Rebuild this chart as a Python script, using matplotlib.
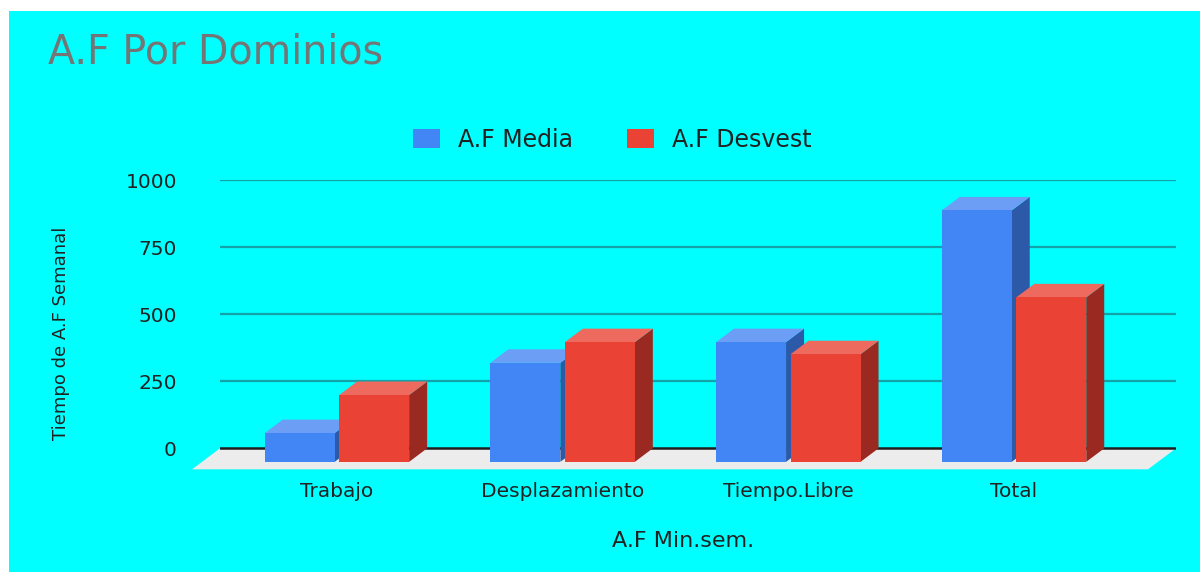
import matplotlib
matplotlib.use("Agg")
import matplotlib.pyplot as plt
from matplotlib.patches import Polygon, Rectangle
import numpy as np

# Data
categories = ["Trabajo", "Desplazamiento", "Tiempo.Libre", "Total"]
media = [107, 369, 446, 937]
desvest = [249, 446, 401, 613]
series_names = ["A.F Media", "A.F Desvest"]
yticks = [0, 250, 500, 750, 1000]

# Colours (front, top, side)
blue = ("#4285F4", "#6C9EF6", "#2C5AA8")
red = ("#EA4335", "#EE6A5E", "#9A2A21")
cyan = "#00FFFF"
W, H = 1200, 572

plt.rcParams["font.family"] = ["DejaVu Sans"]

fig = plt.figure(figsize=(W / 100, H / 100), dpi=100)
fig.patch.set_facecolor("white")
fig.patches.append(Rectangle((9 / W, 0), 1, 1 - 11 / H, transform=fig.transFigure,
                             facecolor=cyan, edgecolor="none", zorder=-10))

# Axes placed so the back wall matches the reference
ax = fig.add_axes([220 / W, (H - 469.8) / H, 956 / W, (469.8 - 180) / H])
ax.patch.set_visible(False)
for s in ax.spines.values():
    s.set_visible(False)

x = np.arange(len(categories))
xlim = (-0.518, -0.518 + 956 / 225.7)
ax.set_xlim(*xlim)
ax.set_ylim(-80, 1000)

# pixels -> data units for the 3D offsets
px_x = 956 / (xlim[1] - xlim[0])
px_y = (469.8 - 180) / 1080
ddx, ddy = 18 / px_x, 13.5 / px_y      # bar depth
fdx, fdy = 28 / px_x, 21 / px_y        # floor depth

# Back-wall gridlines
for t in yticks[1:]:
    ax.axhline(t, color="#12A2A8", lw=1.6, zorder=1)

# Floor
floor = Polygon([(xlim[0], 0), (xlim[1], 0), (xlim[1] - fdx, -fdy), (xlim[0] - fdx, -fdy)],
                closed=True, facecolor="#EDECEC", edgecolor="none", zorder=2, clip_on=False)
ax.add_patch(floor)
ax.axhline(0, color="#1E1E1E", lw=1.8, zorder=3)

# 3D bars
width = 0.31
offsets = [-0.165, 0.165]


def draw_bar(xc, v, cols):
    x0, x1 = xc - width / 2, xc + width / 2
    y0, y1 = -ddy, v - ddy
    side = Polygon([(x1, y0), (x1 + ddx, 0), (x1 + ddx, v), (x1, y1)],
                   facecolor=cols[2], edgecolor="none", zorder=4, clip_on=False)
    top = Polygon([(x0, y1), (x1, y1), (x1 + ddx, v), (x0 + ddx, v)],
                  facecolor=cols[1], edgecolor="none", zorder=4, clip_on=False)
    ax.add_patch(side)
    ax.add_patch(top)


for vals, cols, off, name in zip([media, desvest], [blue, red], offsets, series_names):
    for xi, v in zip(x, vals):
        draw_bar(xi + off, v, cols)
    ax.bar(x + off, vals, width, bottom=-ddy, color=cols[0], label=name,
           zorder=5, clip_on=False)

# Ticks
ax.set_yticks(yticks)
ax.set_yticklabels([str(t) for t in yticks], fontsize=14.5, color="#222222")
ax.set_xticks(x)
ax.set_xticklabels(categories, fontsize=14.5, color="#222222")
ax.tick_params(axis="y", length=0, pad=31)
ax.tick_params(axis="x", length=0, pad=9)

# Titles and axis labels
fig.text(48 / W, 1 - 53 / H, "A.F Por Dominios", fontsize=28.5, color="#757575",
         ha="left", va="center")
fig.text(683 / W, 1 - 541 / H, "A.F Min.sem.", fontsize=16, color="#222222",
         ha="center", va="center")
fig.text(61 / W, 1 - 333 / H, "Tiempo de A.F Semanal", fontsize=13, color="#222222",
         ha="center", va="center", rotation=90)

# Legend
fig.legend(loc="center", bbox_to_anchor=(612 / W, 1 - 140 / H), ncol=2, frameon=False,
           fontsize=17, handlelength=1.15, handleheight=0.85, handletextpad=0.75,
           columnspacing=2.3, labelcolor="#222222")

fig.savefig("out.png", dpi=100, facecolor=fig.get_facecolor())
